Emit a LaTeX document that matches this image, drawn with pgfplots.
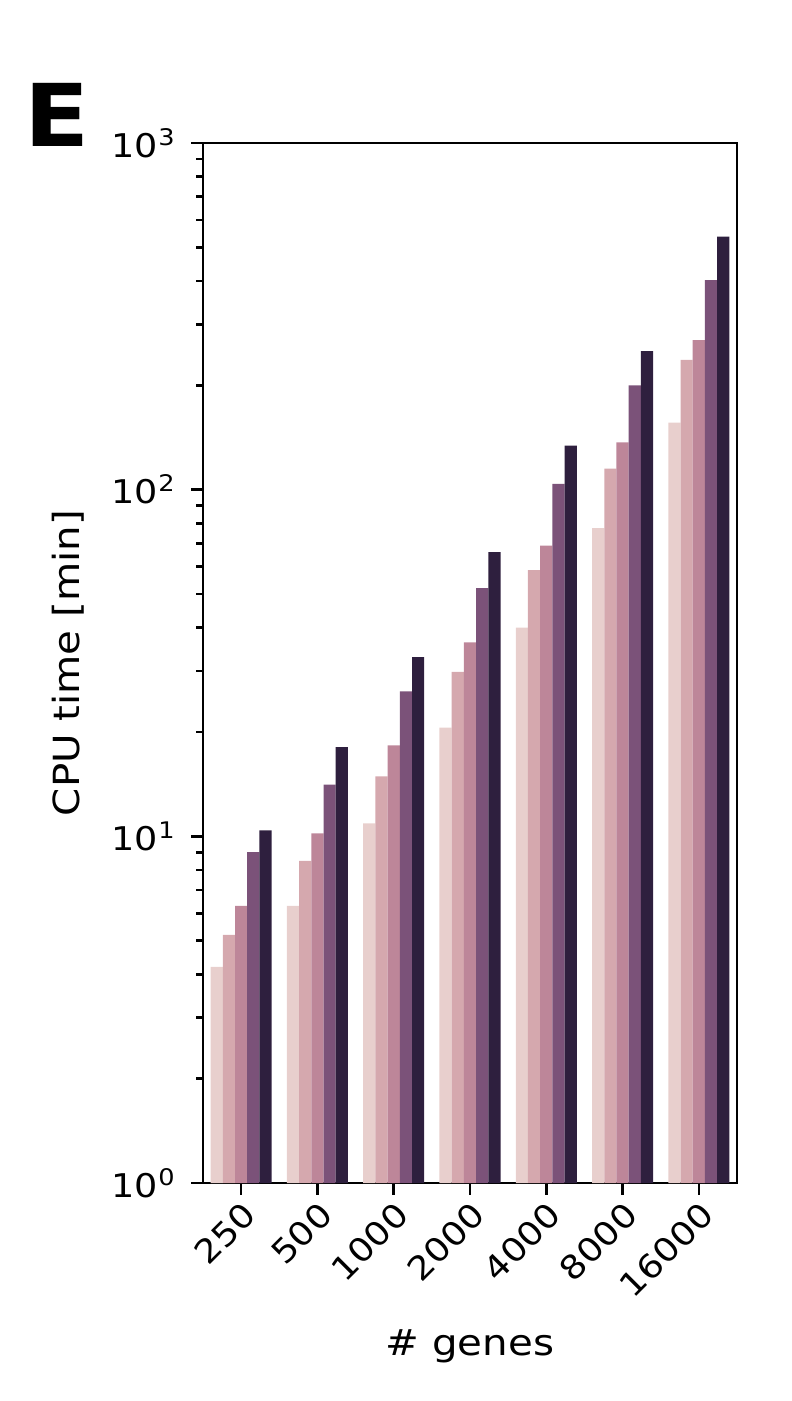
\documentclass[border=0pt]{standalone}
\usepackage{pgfplots}
\pgfplotsset{compat=1.18}
\usepackage{fontspec}
\setmainfont{DejaVu Sans}
\newfontfamily\tickfont[FakeStretch=1.12]{DejaVu Sans}
\newfontfamily\bigfont[FakeStretch=1.1]{DejaVu Sans}
\definecolor{c1}{HTML}{E8CFCD}
\definecolor{c2}{HTML}{D5A8AE}
\definecolor{c3}{HTML}{BD8699}
\definecolor{c4}{HTML}{7B5279}
\definecolor{c5}{HTML}{2E1F3E}
\begin{document}
\begin{tikzpicture}
\path (-60.9pt,-65.4pt) rectangle (176.7pt,354.9pt);
\begin{axis}[
  at={(0pt,0pt)}, anchor=south west,
  scale only axis, width=160.2pt, height=312pt,
  ymode=log, ymin=1, ymax=1000, log origin=infty,
  xmin=-0.5, xmax=6.5,
  ybar, bar width=0.16,
  xtick={0,1,2,3,4,5,6},
  xticklabels={250,500,1000,2000,4000,8000,16000},
  ytick={1,10,100,1000},
  yticklabels={10\textsuperscript{0},10\textsuperscript{1},10\textsuperscript{2},10\textsuperscript{3}},
  tick pos=left, tick align=outside,
  major tick length=3.5pt, minor tick length=2pt,
  every tick/.style={black, line width=0.8pt},
  axis line style={black, line width=0.8pt},
  xticklabel style={font=\tickfont\fontsize{9.8}{11}\selectfont, rotate=45, anchor=north east, inner sep=1pt},
  yticklabel style={font=\tickfont\fontsize{9.8}{11}\selectfont, xshift=-1pt},
  xlabel={\# genes}, ylabel={CPU time [min]},
  label style={font=\tickfont\fontsize{10.8}{13}\selectfont},
  xlabel style={at={(axis description cs:0.5,0)}, anchor=center, yshift=-49pt},
  ylabel style={at={(axis description cs:0,0.5)}, anchor=center, yshift=40.5pt},
  every axis plot/.append style={draw=none},
]
\addplot[fill=c1, bar shift=-0.32] coordinates {(0,4.2) (1,6.3) (2,10.9) (3,20.6) (4,40) (5,77.5) (6,156)};
\addplot[fill=c2, bar shift=-0.16] coordinates {(0,5.2) (1,8.5) (2,14.9) (3,29.8) (4,58.6) (5,115) (6,237)};
\addplot[fill=c3, bar shift=0] coordinates {(0,6.3) (1,10.2) (2,18.3) (3,36.3) (4,69) (5,137) (6,270)};
\addplot[fill=c4, bar shift=0.16] coordinates {(0,9.0) (1,14.1) (2,26.2) (3,52) (4,104) (5,200) (6,402)};
\addplot[fill=c5, bar shift=0.32] coordinates {(0,10.4) (1,18.1) (2,32.9) (3,66) (4,134) (5,251) (6,537)};
\end{axis}
\node[font=\bigfont\bfseries\fontsize{26}{28}\selectfont, anchor=center] at (-43.8pt,320.4pt) {E};
\end{tikzpicture}
\end{document}
